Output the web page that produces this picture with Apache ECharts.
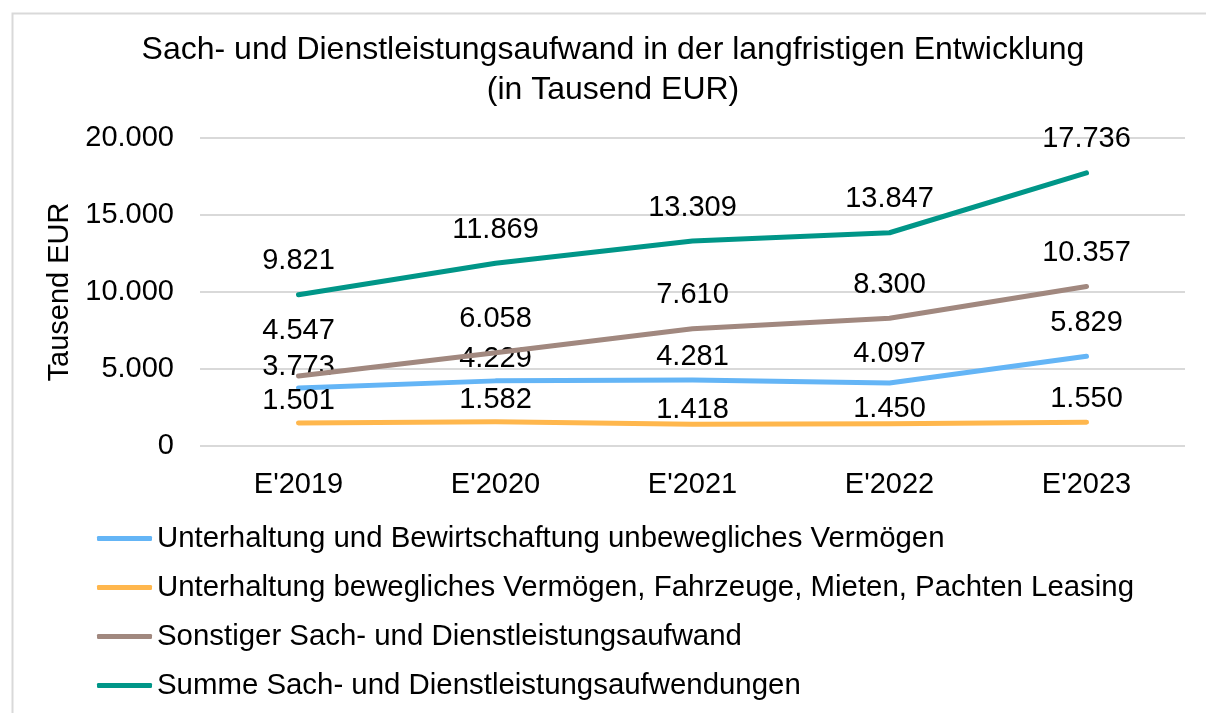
<!DOCTYPE html>
<html>
<head>
<meta charset="utf-8">
<script src="https://cdn.jsdelivr.net/npm/echarts@6/dist/echarts.min.js"></script>
<style>
  html, body { margin: 0; padding: 0; background: #fff; }
  #chart { width: 1206px; height: 713px; }
</style>
</head>
<body>
<div id="chart"></div>
<script>
// Jahre (Ergebnisse)
const categories = ["E'2019", "E'2020", "E'2021", "E'2022", "E'2023"];

// Werte in Tausend EUR
const unbeweglich = [3773, 4229, 4281, 4097, 5829];
const beweglich = [1501, 1582, 1418, 1450, 1550];
const sonstiger = [4547, 6058, 7610, 8300, 10357];
const summe = [9821, 11869, 13309, 13847, 17736];

const seriesNames = [
  'Unterhaltung und Bewirtschaftung unbewegliches Vermögen',
  'Unterhaltung bewegliches Vermögen, Fahrzeuge, Mieten, Pachten Leasing',
  'Sonstiger Sach- und Dienstleistungsaufwand',
  'Summe Sach- und Dienstleistungsaufwendungen'
];

const yTicks = [0, 5000, 10000, 15000, 20000];

const FONT = 'Liberation Sans, Arial, sans-serif';
const FS = 29;
const colors = ['#64B5F6', '#FFB74D', '#A1887F', '#009688'];

// extra vertical nudge (px) for labels that would otherwise collide
const labelNudge = [
  [13, 12, 10, 5, 0],
  [12, 12, 19, 19, 10],
  [-11, 0, 0, 0, 0],
  [0, 0, 0, 0, 0]
];

const fmt = v => v.toLocaleString('de-DE');

function makeSeries(name, values, idx) {
  return {
    name: name,
    type: 'line',
    data: values.map((v, i) => ({
      value: v,
      label: { offset: [0, labelNudge[idx][i]] }
    })),
    // invisible point markers, kept so the value labels are drawn
    symbol: 'circle',
    symbolSize: 0,
    showSymbol: true,
    smooth: false,
    z: 2 + idx,
    lineStyle: { width: 5, color: colors[idx], cap: 'round', join: 'round' },
    itemStyle: { color: colors[idx] },
    label: {
      show: true,
      position: 'top',
      distance: 19,
      fontFamily: FONT,
      fontSize: FS,
      color: '#000',
      formatter: p => fmt(p.value)
    }
  };
}

const chart = echarts.init(document.getElementById('chart'), null, { renderer: 'canvas' });

chart.setOption({
  backgroundColor: '#fff',
  animation: false,
  graphic: [
    {
      type: 'rect',
      left: 10, top: 11,
      shape: { width: 1400, height: 900 },
      style: { fill: 'none', stroke: '#d9d9d9', lineWidth: 2 },
      silent: true,
      z: -1
    },
    {
      // two-line chart heading, centred over the plot
      type: 'text',
      x: 613,
      y: 30,
      silent: true,
      style: {
        text: 'Sach- und Dienstleistungsaufwand in der langfristigen Entwicklung\n(in Tausend EUR)',
        align: 'center',
        verticalAlign: 'top',
        fontFamily: FONT,
        fontSize: 32,
        lineHeight: 40,
        fill: '#000'
      }
    }
  ],
  legend: {
    orient: 'vertical',
    left: 92,
    top: 519,
    itemWidth: 55,
    itemHeight: 5,
    itemGap: 20,
    icon: 'roundRect',
    data: seriesNames,
    textStyle: { fontFamily: FONT, fontSize: 29.4, color: '#000' }
  },
  grid: {
    left: 200,
    right: 21,
    top: 138,
    bottom: 267,
    containLabel: false
  },
  xAxis: {
    type: 'category',
    data: categories,
    boundaryGap: true,
    axisLine: { show: false },
    axisTick: { show: false },
    axisLabel: {
      fontFamily: FONT,
      fontSize: FS,
      color: '#000',
      margin: 24
    }
  },
  yAxis: {
    type: 'value',
    min: yTicks[0],
    max: yTicks[yTicks.length - 1],
    interval: yTicks[1] - yTicks[0],
    name: 'Tausend EUR',
    nameLocation: 'middle',
    nameGap: 121,
    nameRotate: 90,
    nameTextStyle: { fontFamily: FONT, fontSize: FS, color: '#000' },
    axisLine: { show: false },
    axisTick: { show: false },
    splitLine: { lineStyle: { color: '#d9d9d9', width: 2 } },
    axisLabel: {
      fontFamily: FONT,
      fontSize: FS,
      color: '#000',
      margin: 26,
      formatter: v => fmt(v)
    }
  },
  series: [
    makeSeries(seriesNames[0], unbeweglich, 0),
    makeSeries(seriesNames[1], beweglich, 1),
    makeSeries(seriesNames[2], sonstiger, 2),
    makeSeries(seriesNames[3], summe, 3)
  ]
});
</script>
</body>
</html>
